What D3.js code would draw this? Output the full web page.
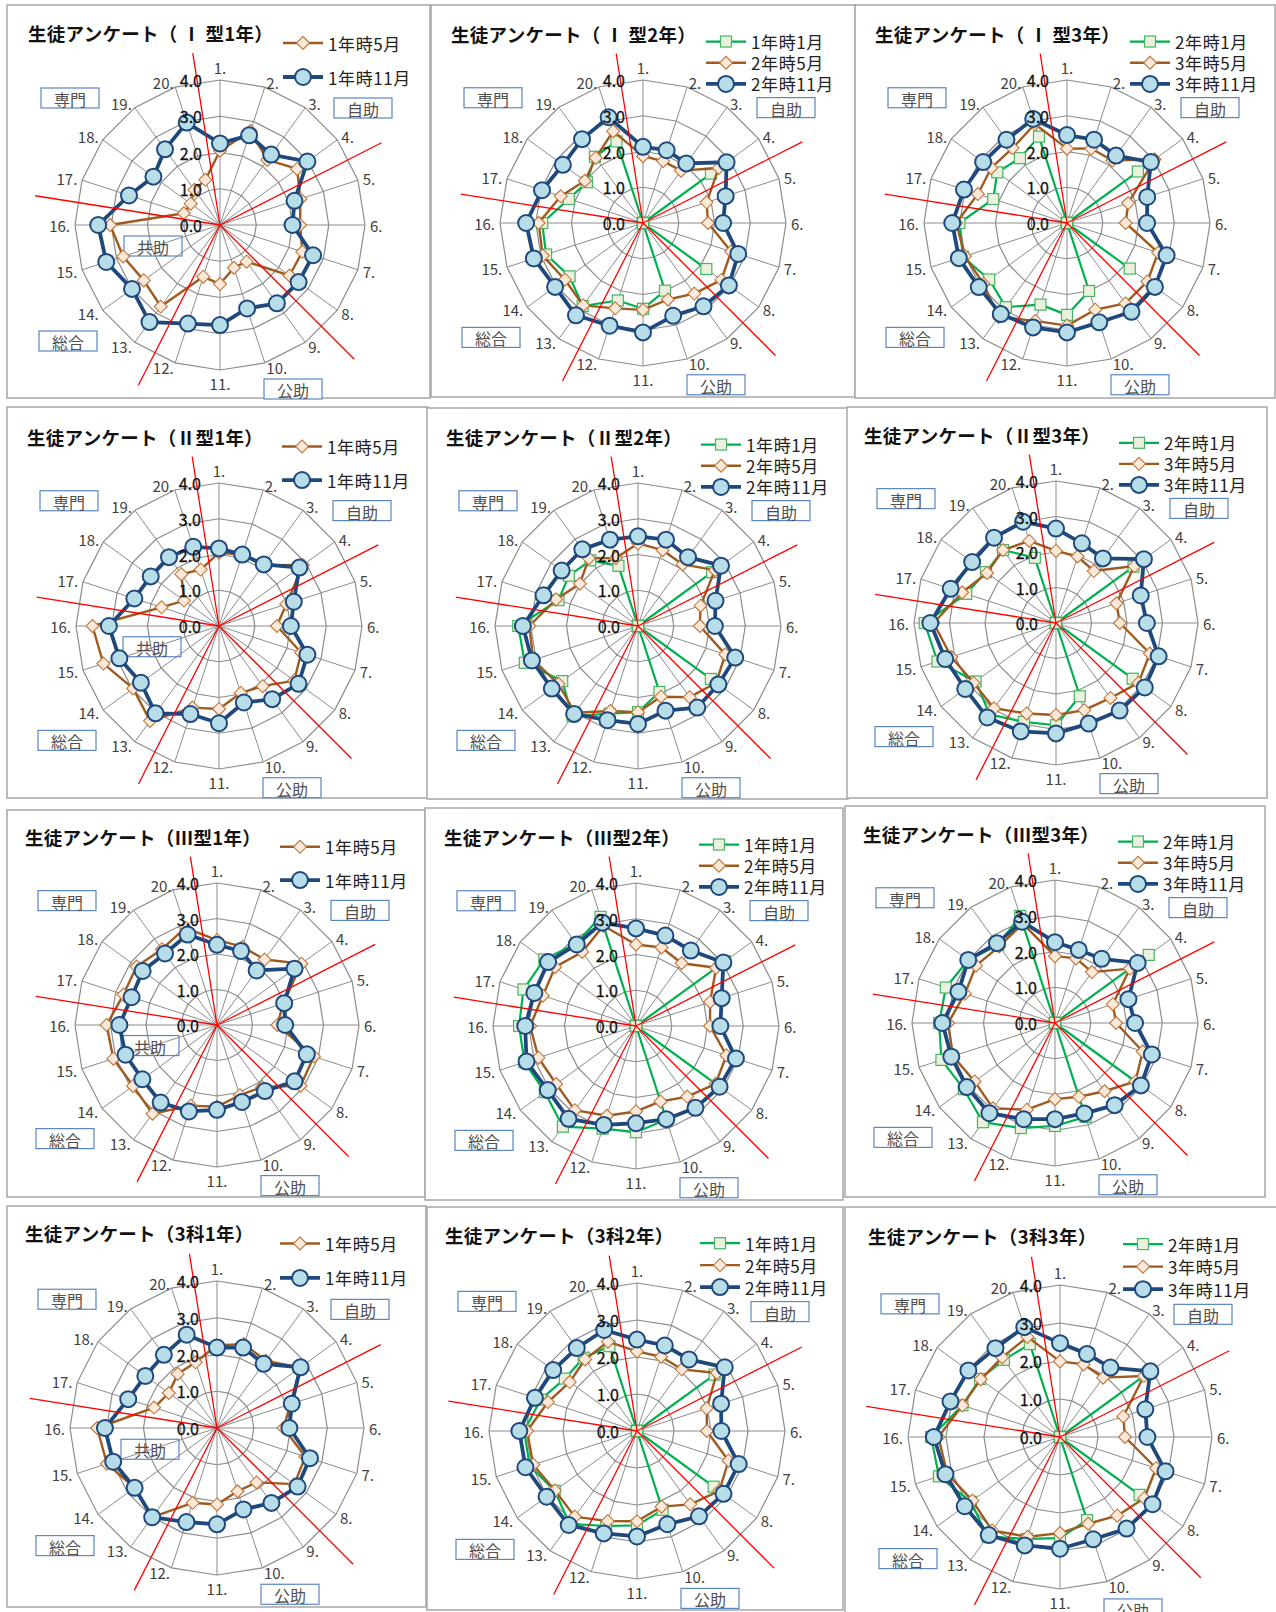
<!DOCTYPE html>
<html>
<head>
<meta charset="utf-8">
<script src="https://cdn.jsdelivr.net/npm/d3@7"></script>
<style>
  body { margin: 0; background: #fff; }
  svg { display: block; font-family: "Noto Sans CJK JP", "Noto Sans", sans-serif; }
</style>
</head>
<body>
<div id="chart"></div>
<script>
// question numbers round each radar, and the value rings
const items = ["1.", "2.", "3.", "4.", "5.", "6.", "7.", "8.", "9.", "10.",
               "11.", "12.", "13.", "14.", "15.", "16.", "17.", "18.", "19.", "20."];
const ticks = [0, 1, 2, 3, 4];

// Ⅰ型
const t1y1May = [2.05, 2.73, 2.22, 2.63, 2.33, 2.21, 2.39, 2.37, 1.25, 1.24, 1.63, 1.50, 2.78, 2.60, 2.81, 3.03, 1.05, 1.00, 1.20, 1.31];
const t1y1Nov = [2.25, 2.60, 2.40, 2.98, 2.16, 2.00, 2.70, 2.68, 2.67, 2.42, 2.76, 2.86, 3.31, 3.00, 3.30, 3.36, 2.64, 2.27, 2.58, 2.97];
const t1y2Jan = [0, 0, 0, 2.35, 0, 0, 0, 2.19, 0, 1.99, 2.40, 2.28, 2.87, 2.54, 2.85, 2.82, 2.18, 1.94, 2.29, 2.40];
const t1y2May = [1.87, 1.82, 1.81, 2.62, 1.87, 1.82, 2.59, 2.71, 2.44, 2.25, 2.43, 2.51, 2.85, 2.70, 2.95, 2.92, 2.42, 2.01, 2.25, 2.70];
const t1y2Nov = [2.13, 2.14, 2.06, 2.89, 2.43, 2.24, 2.80, 2.97, 2.88, 2.73, 3.06, 3.02, 3.19, 3.04, 3.21, 3.27, 2.97, 2.77, 2.90, 3.11];
const t1y3Jan = [0, 0, 0, 2.45, 0, 0, 0, 2.17, 0, 2.00, 2.57, 2.40, 2.91, 2.69, 3.06, 3.01, 2.17, 2.41, 2.24, 2.54];
const t1y3May = [2.08, 2.19, 2.16, 3.03, 1.80, 1.64, 2.68, 2.78, 2.78, 2.55, 2.87, 2.88, 3.25, 2.89, 3.00, 3.10, 2.62, 2.62, 2.59, 2.91];
const t1y3Nov = [2.46, 2.45, 2.33, 2.90, 2.36, 2.24, 2.93, 3.04, 3.07, 2.92, 3.06, 3.07, 3.15, 3.05, 3.18, 3.21, 3.03, 2.90, 2.88, 3.06];

// Ⅱ型
const t2y1May = [2.05, 2.10, 2.10, 2.90, 1.98, 1.62, 2.42, 2.60, 2.08, 1.97, 2.32, 2.40, 3.28, 2.97, 3.40, 3.54, 1.69, 1.21, 1.79, 1.66];
const t2y1Nov = [2.17, 2.10, 2.13, 2.78, 2.20, 2.01, 2.60, 2.75, 2.53, 2.25, 2.72, 2.59, 3.02, 2.70, 2.93, 3.08, 2.49, 2.36, 2.38, 2.33];
const t2y2Jan = [0, 0, 0, 2.56, 0, 0, 0, 2.52, 0, 1.94, 2.41, 2.58, 3.12, 2.62, 3.33, 3.35, 2.34, 2.39, 2.27, 1.77];
const t2y2May = [2.31, 2.23, 2.13, 2.66, 1.84, 1.73, 2.57, 2.70, 2.46, 2.08, 2.41, 2.50, 3.00, 2.75, 3.08, 3.04, 2.41, 2.01, 2.34, 2.00];
const t2y2Nov = [2.51, 2.54, 2.38, 2.87, 2.28, 2.15, 2.86, 2.78, 2.82, 2.49, 2.74, 2.77, 3.04, 2.98, 3.12, 3.22, 2.78, 2.64, 2.65, 2.54];
const t2y3Jan = [0, 0, 0, 2.70, 0, 0, 0, 2.67, 0, 2.17, 2.88, 2.93, 3.18, 2.80, 3.51, 3.70, 2.66, 2.44, 2.54, 1.93];
const t2y3May = [2.03, 1.97, 1.81, 2.73, 1.79, 1.80, 2.78, 2.87, 2.61, 2.58, 2.59, 2.68, 2.97, 2.87, 3.10, 3.45, 2.78, 2.40, 2.54, 2.43];
const t2y3Nov = [2.66, 2.36, 2.25, 3.06, 2.51, 2.56, 3.04, 3.09, 3.05, 2.98, 3.11, 3.21, 3.29, 3.16, 3.28, 3.54, 3.12, 2.92, 2.97, 3.00];

// Ⅲ型
const t3y1May = [2.39, 2.32, 2.28, 2.94, 1.96, 1.70, 2.87, 2.91, 2.16, 2.08, 2.30, 2.39, 3.09, 2.92, 3.07, 3.11, 2.77, 2.80, 2.64, 2.88];
const t3y1Nov = [2.26, 2.19, 1.90, 2.70, 1.99, 1.92, 2.66, 2.70, 2.30, 2.28, 2.39, 2.56, 2.70, 2.60, 2.71, 2.75, 2.53, 2.59, 2.49, 2.68];
const t3y2Jan = [0, 0, 0, 3.08, 0, 0, 0, 2.85, 0, 2.75, 2.97, 3.02, 3.48, 3.15, 3.28, 3.27, 3.31, 3.17, 2.85, 3.21];
const t3y2May = [2.28, 2.31, 2.17, 2.77, 2.18, 2.07, 2.66, 2.75, 2.44, 2.22, 2.39, 2.64, 2.91, 2.76, 2.87, 2.96, 2.74, 2.80, 2.56, 2.95];
const t3y2Nov = [2.73, 2.66, 2.61, 3.02, 2.52, 2.36, 2.94, 2.89, 2.83, 2.74, 2.72, 2.91, 3.21, 3.05, 3.22, 3.10, 2.99, 3.04, 2.82, 3.04];
const t3y3Jan = [0, 0, 0, 3.24, 0, 0, 0, 2.95, 0, 2.76, 2.88, 3.09, 3.43, 3.15, 3.34, 3.24, 3.21, 3.00, 2.70, 3.15];
const t3y3May = [1.87, 1.90, 1.76, 2.59, 1.70, 1.71, 2.58, 2.78, 2.36, 2.17, 2.13, 2.55, 2.95, 2.78, 3.00, 2.99, 2.65, 2.73, 2.65, 2.92];
const t3y3Nov = [2.26, 2.15, 2.22, 2.86, 2.16, 2.24, 2.85, 2.97, 2.84, 2.66, 2.69, 2.83, 3.12, 3.05, 3.05, 3.15, 2.84, 3.00, 2.76, 2.98];

// 3科
const s3y1May = [2.25, 2.40, 2.26, 2.80, 2.10, 1.81, 2.53, 2.60, 1.83, 1.81, 2.08, 2.14, 3.00, 2.77, 3.15, 3.26, 1.80, 1.62, 1.82, 1.88];
const s3y1Nov = [2.19, 2.30, 2.16, 2.81, 2.14, 1.97, 2.66, 2.71, 2.52, 2.33, 2.62, 2.69, 3.00, 2.77, 2.97, 3.05, 2.54, 2.41, 2.46, 2.67];
const s3y2Jan = [0, 0, 0, 2.59, 0, 0, 0, 2.56, 0, 2.24, 2.55, 2.70, 3.10, 2.75, 3.05, 3.05, 2.74, 2.41, 2.45, 2.41];
const s3y2May = [2.15, 2.11, 2.06, 2.67, 1.98, 1.89, 2.60, 2.75, 2.45, 2.15, 2.44, 2.56, 2.86, 2.74, 2.95, 2.97, 2.53, 2.25, 2.39, 2.54];
const s3y2Nov = [2.47, 2.43, 2.39, 2.93, 2.39, 2.28, 2.89, 2.89, 2.85, 2.65, 2.85, 2.91, 3.14, 3.02, 3.17, 3.18, 2.90, 2.80, 2.77, 2.87];
const s3y3Jan = [0, 0, 0, 2.80, 0, 0, 0, 2.59, 0, 2.30, 2.66, 2.82, 3.24, 2.90, 3.35, 3.39, 2.70, 2.60, 2.51, 2.57];
const s3y3May = [1.99, 2.01, 1.93, 2.73, 1.75, 1.71, 2.66, 2.74, 2.56, 2.40, 2.53, 2.76, 3.04, 2.85, 3.12, 3.20, 2.70, 2.58, 2.59, 2.77];
const s3y3Nov = [2.47, 2.30, 2.26, 2.94, 2.36, 2.30, 2.92, 3.01, 2.98, 2.83, 2.94, 3.00, 3.19, 3.10, 3.17, 3.32, 3.03, 2.98, 2.89, 3.04];

const titles = ["生徒アンケート（ Ⅰ 型1年）", "生徒アンケート（ Ⅰ 型2年）", "生徒アンケート（ Ⅰ 型3年）",
                "生徒アンケート（Ⅱ型1年）", "生徒アンケート（Ⅱ型2年）", "生徒アンケート（Ⅱ型3年）",
                "生徒アンケート（Ⅲ型1年）", "生徒アンケート（Ⅲ型2年）", "生徒アンケート（Ⅲ型3年）",
                "生徒アンケート（3科1年）", "生徒アンケート（3科2年）", "生徒アンケート（3科3年）"];
const names1 = ["1年時5月", "1年時11月"];
const names2 = ["1年時1月", "2年時5月", "2年時11月"];
const names3 = ["2年時1月", "3年時5月", "3年時11月"];

// category boxes (共助 only shown on the 1st-year charts)
const groups = ["専門", "自助", "共助", "総合", "公助"];

// one entry per chart, left to right, top to bottom
const panels = [
  {title: titles[0], names: names1, kinds: ["may", "nov"], values: [t1y1May, t1y1Nov]},
  {title: titles[1], names: names2, kinds: ["jan", "may", "nov"], values: [t1y2Jan, t1y2May, t1y2Nov]},
  {title: titles[2], names: names3, kinds: ["jan", "may", "nov"], values: [t1y3Jan, t1y3May, t1y3Nov]},
  {title: titles[3], names: names1, kinds: ["may", "nov"], values: [t2y1May, t2y1Nov]},
  {title: titles[4], names: names2, kinds: ["jan", "may", "nov"], values: [t2y2Jan, t2y2May, t2y2Nov]},
  {title: titles[5], names: names3, kinds: ["jan", "may", "nov"], values: [t2y3Jan, t2y3May, t2y3Nov]},
  {title: titles[6], names: names1, kinds: ["may", "nov"], values: [t3y1May, t3y1Nov]},
  {title: titles[7], names: names2, kinds: ["jan", "may", "nov"], values: [t3y2Jan, t3y2May, t3y2Nov]},
  {title: titles[8], names: names3, kinds: ["jan", "may", "nov"], values: [t3y3Jan, t3y3May, t3y3Nov]},
  {title: titles[9], names: names1, kinds: ["may", "nov"], values: [s3y1May, s3y1Nov]},
  {title: titles[10], names: names2, kinds: ["jan", "may", "nov"], values: [s3y2Jan, s3y2May, s3y2Nov]},
  {title: titles[11], names: names3, kinds: ["jan", "may", "nov"], values: [s3y3Jan, s3y3May, s3y3Nov]}
];

// frame box [x0, y0, x1, y1], radar centre and radius of every chart
const layout = [
  [7, 5, 430, 398, 220, 225, 145], [431, 5, 855, 397, 643, 223, 143], [855, 5, 1275, 398, 1067, 223, 143],
  [7, 407, 428, 798, 219, 626, 143], [427, 408, 848, 799, 638, 626, 143], [847, 407, 1267, 798, 1056, 623, 142],
  [7, 810, 425, 1197, 217, 1025, 142], [425, 808, 843, 1200, 636, 1026, 143], [845, 806, 1265, 1197, 1055, 1023, 143],
  [7, 1206, 426, 1607, 217, 1428, 147], [427, 1207, 843, 1610, 637, 1431, 148], [845, 1207, 1282, 1616, 1060, 1437, 152]
];

const style = {
  jan: {line: "#00b050", width: 2.2, fill: "#ebf1de", stroke: "#47b565"},
  may: {line: "#9e5a1f", width: 2.4, fill: "#fde9d9", stroke: "#c0773d"},
  nov: {line: "#1f497d", width: 3.8, fill: "#b7dde8", stroke: "#1f497d"}
};

const width = 1276, height = 1612;

let svg = d3.select("#chart").append("svg")
  .attr("width", width).attr("height", height);
svg.append("rect").attr("width", width).attr("height", height).attr("fill", "#fff");

const angle = d3.scaleLinear().domain([0, items.length]).range([0, 2 * Math.PI]);

function marker(g, kind) {
  const s = style[kind];
  if (kind === "jan") {
    g.append("rect").attr("x", -5.5).attr("y", -5.5).attr("width", 11).attr("height", 11)
      .attr("fill", s.fill).attr("stroke", s.stroke).attr("stroke-width", 1.2);
  } else if (kind === "may") {
    g.append("path").attr("d", "M0,-6.5L6.5,0L0,6.5L-6.5,0Z")
      .attr("fill", s.fill).attr("stroke", s.stroke).attr("stroke-width", 1.1);
  } else {
    g.append("circle").attr("r", 8)
      .attr("fill", s.fill).attr("stroke", s.stroke).attr("stroke-width", 2);
  }
}

panels.forEach((p, n) => {
  const [x0, y0, x1, y1, cx, cy, R] = layout[n];
  const k = R / 145;
  const r = d3.scaleLinear().domain([0, 4]).range([0, R]);

  // frame
  svg.append("rect").attr("x", x0).attr("y", y0).attr("width", x1 - x0).attr("height", y1 - y0)
    .attr("fill", "#fff").attr("stroke", "#a6a6a6").attr("stroke-width", 1.5);

  const g = svg.append("g").attr("transform", `translate(${cx},${cy})`);

  // title
  g.append("text").attr("x", -192).attr("y", -192 * k)
    .attr("dominant-baseline", "central").attr("font-size", 18.5).attr("font-weight", 700)
    .attr("letter-spacing", 0.3).attr("fill", "#111").text(p.title);

  // legend
  const rows = p.names.length === 2 ? [-182, -148] : [-184, -162.5, -141];
  p.names.forEach((name, i) => {
    const kind = p.kinds[i];
    const ly = rows[i] * k;
    g.append("line").attr("x1", 63).attr("x2", 103).attr("y1", ly).attr("y2", ly)
      .attr("stroke", style[kind].line).attr("stroke-width", style[kind].width);
    marker(g.append("g").attr("transform", `translate(83,${ly})`), kind);
    g.append("text").attr("x", 108).attr("y", ly).attr("dominant-baseline", "central")
      .attr("font-size", 17).attr("fill", "#222").attr("letter-spacing", 0.6).text(name);
  });

  // rings and spokes
  const ring = d3.lineRadial().angle((d, i) => angle(i)).radius(d => r(d)).curve(d3.curveLinearClosed);
  ticks.slice(1).forEach(t => {
    g.append("path").attr("d", ring(items.map(() => t)))
      .attr("fill", "none").attr("stroke", "#8c8c8c").attr("stroke-width", 1.2);
  });
  items.forEach((d, i) => {
    const [ex, ey] = d3.pointRadial(angle(i), r(4));
    g.append("line").attr("x1", 0).attr("y1", 0).attr("x2", ex).attr("y2", ey)
      .attr("stroke", "#8c8c8c").attr("stroke-width", 1);
  });

  // question labels, anchored away from the ring
  items.forEach((d, i) => {
    const a = angle(i);
    const s = Math.sin(a), c = Math.cos(a);
    const [lx, ly] = d3.pointRadial(a, R + 5);
    const side = Math.abs(s) < 0.01 ? "middle" : (s > 0 ? "start" : "end");
    g.append("text").attr("x", lx).attr("y", side === "middle" ? ly - c * 8 : ly)
      .attr("text-anchor", side).attr("dominant-baseline", "central")
      .attr("font-size", 15).attr("fill", "#404040").text(d);
  });

  // category boxes
  const boxes = [[-150, -127], [143, -117], [-67, 21], [-152, 116], [73, 164]];
  groups.forEach((name, i) => {
    if (name === "共助" && p.names.length !== 2) return;
    const bx = boxes[i][0], by = boxes[i][1] * k;
    g.append("rect").attr("x", bx - 29).attr("y", by - 10).attr("width", 58).attr("height", 20)
      .attr("fill", name === "共助" ? "none" : "#fff").attr("stroke", "#5b86c2").attr("stroke-width", 1.2);
    g.append("text").attr("x", bx).attr("y", by + 1).attr("text-anchor", "middle")
      .attr("dominant-baseline", "central").attr("font-size", 16).attr("fill", "#505050").text(name);
  });

  // series
  p.values.forEach((vals, si) => {
    const kind = p.kinds[si];
    const s = style[kind];
    g.append("path").attr("d", ring(vals))
      .attr("fill", "none").attr("stroke", s.line).attr("stroke-width", s.width)
      .attr("stroke-linejoin", "round");
    vals.forEach((v, i) => {
      const [mx, my] = d3.pointRadial(angle(i), r(v));
      marker(g.append("g").attr("transform", `translate(${mx},${my})`), kind);
    });
  });

  // red dividers between the question groups
  const dividers = [[-9, 1.2], [63, 1.25], [135, 1.31], [207, 1.24], [279, 1.29]];
  dividers.forEach(([deg, len]) => {
    const [ex, ey] = d3.pointRadial(deg * Math.PI / 180, R * len);
    g.append("line").attr("x1", 0).attr("y1", 0).attr("x2", ex).attr("y2", ey)
      .attr("stroke", "#ff0000").attr("stroke-width", 1.3);
  });

  // value labels on the first spoke
  ticks.forEach(t => {
    g.append("text").attr("x", -18).attr("y", -r(t))
      .attr("text-anchor", "end").attr("dominant-baseline", "central")
      .attr("font-size", 16).attr("fill", "#111").attr("stroke", "#111").attr("stroke-width", 0.3)
      .text(d3.format(".1f")(t));
  });
});
</script>
</body>
</html>
